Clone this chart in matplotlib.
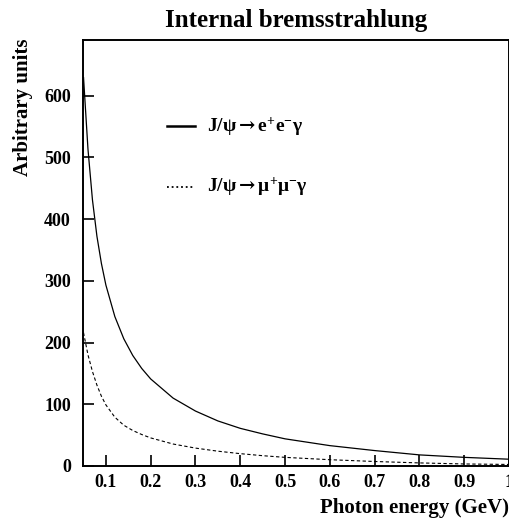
"""
Internal bremsstrahlung photon spectrum for J/psi -> l+ l- gamma.
"""
import matplotlib
matplotlib.use("Agg")
import matplotlib.pyplot as plt

plt.rcParams["font.family"] = ["Liberation Serif", "DejaVu Serif"]
plt.rcParams["font.weight"] = "bold"
plt.rcParams["mathtext.fontset"] = "custom"
plt.rcParams["mathtext.rm"] = "Liberation Serif:bold"
plt.rcParams["mathtext.bf"] = "Liberation Serif:bold"
plt.rcParams["mathtext.it"] = "Liberation Serif:bold:italic"
plt.rcParams["mathtext.sf"] = "DejaVu Serif"
plt.rcParams["mathtext.default"] = "bf"

# ── Data ─────────────────────────────────────────────────────────────────────
energy = [0.05, 0.06, 0.07, 0.08, 0.09, 0.10, 0.12, 0.14, 0.16, 0.18, 0.20,
          0.25, 0.30, 0.35, 0.40, 0.45, 0.50, 0.60, 0.70, 0.80, 0.90, 1.00]
ee_gamma = [630, 513, 431, 372, 328, 293, 242, 206, 179, 158, 141,
            110, 89, 73, 61, 52, 44, 33, 25, 18, 14, 11]
mumu_gamma = [216, 180, 153, 131, 113, 99, 79, 66, 57.5, 51, 45.5,
              35.6, 29, 24, 20, 16.7, 14, 10.2, 7.3, 5, 3.3, 2.5]

x_ticks = [0.1, 0.2, 0.3, 0.4, 0.5, 0.6, 0.7, 0.8, 0.9, 1.0]
x_tick_labels = ["0.1", "0.2", "0.3", "0.4", "0.5", "0.6", "0.7", "0.8", "0.9", "1"]
y_ticks = [0, 100, 200, 300, 400, 500, 600]

label_ee = r"J/ψ$\mathsf{\rightarrow}$e$^{+}$e$^{-}$γ"
label_mumu = r"J/ψ$\mathsf{\rightarrow}$μ$^{+}$μ$^{-}$γ"

# ── Figure ──────────────────────────────────────────────────────────────────
fig = plt.figure(figsize=(5.10, 5.23), dpi=100)
ax = fig.add_axes([83.5 / 510, 57 / 523, 425.5 / 510, 426 / 523])

ax.plot(energy, ee_gamma, color="black", lw=0.9, solid_capstyle="butt")
ax.plot(energy, mumu_gamma, color="black", lw=0.8, linestyle=(0, (3, 2.2)))

ax.set_xlim(0.05, 1.0)
ax.set_ylim(0, 690)
ax.set_xticks(x_ticks)
ax.set_xticklabels(x_tick_labels)
ax.set_yticks(y_ticks)
ax.tick_params(axis="both", direction="in", length=8, width=1.2,
               labelsize=13, top=False, right=False)
ax.tick_params(axis="x", pad=6)
ax.tick_params(axis="y", pad=9)
for sp in ax.spines.values():
    sp.set_linewidth(1.4)

# legend, drawn by hand to match the original layout
ax.plot([0.196, 0.262], [0.797, 0.797], transform=ax.transAxes,
        color="black", lw=1.8)
ax.text(0.29, 0.797, label_ee, transform=ax.transAxes, fontsize=14,
        fontweight="bold", va="center", ha="left")
ax.plot([0.196, 0.262], [0.655, 0.655], transform=ax.transAxes,
        color="black", lw=1.3, linestyle=(0, (1, 1.6)))
ax.text(0.29, 0.655, label_mumu, transform=ax.transAxes, fontsize=14,
        fontweight="bold", va="center", ha="left")

ax.set_title("Internal bremsstrahlung", fontsize=18, fontweight="bold", pad=9)
fig.text(509 / 510, 1 - 508 / 523, "Photon energy (GeV)", fontsize=15,
         fontweight="bold", ha="right", va="center")
fig.text(23 / 510, 1 - 38 / 523, "Arbitrary units", fontsize=15,
         fontweight="bold", rotation=90, ha="center", va="top")

fig.savefig("out.png", dpi=100, facecolor="white")
